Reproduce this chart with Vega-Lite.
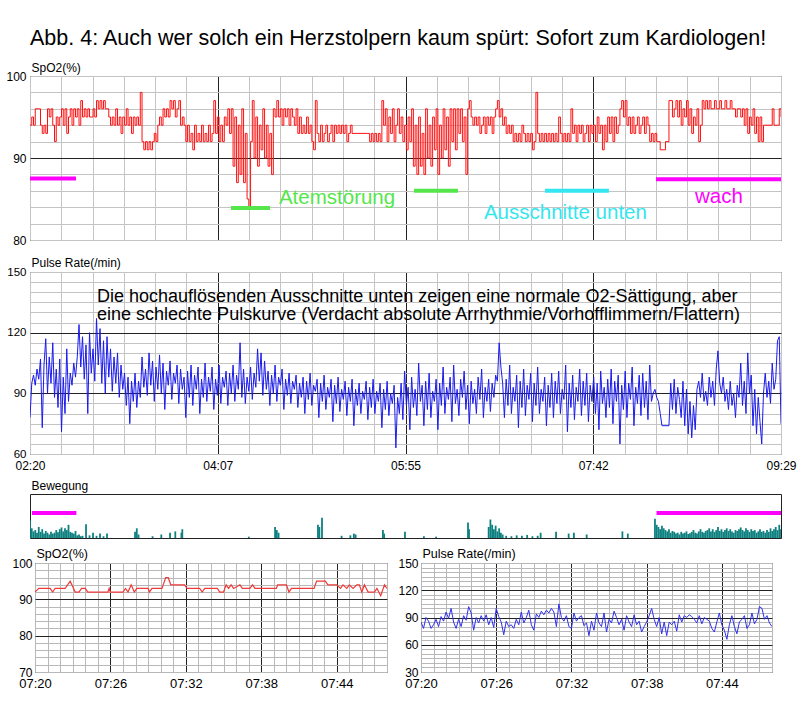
{
"$schema": "https://vega.github.io/schema/vega-lite/v6.json",
"background": "white",
"padding": {"left": 5, "top": 28, "right": 5, "bottom": 5},
"title": {"text": "Abb. 4: Auch wer solch ein Herzstolpern kaum spürt: Sofort zum Kardiologen!", "anchor": "start", "frame": "group", "fontSize": 21.5, "fontWeight": "normal", "font": "Liberation Sans", "color": "#000", "offset": 11, "dx": 0},
"bounds": "flush",
"spacing": 0,
"config": {
  "font": "Liberation Sans",
  "view": {"stroke": "#222"},
  "axis": {"labelFont": "Liberation Sans", "labelFontSize": 12, "labelColor": "#000", "titleColor": "#000", "titleFont": "Liberation Sans", "titleFontSize": 12, "titleFontWeight": "normal", "gridWidth": 1, "labelOverlap": false, "ticks": false, "domain": false}
},
"datasets": {
"spo2": [
{"t":140,"v":94},{"t":141,"v":95},{"t":142,"v":94},{"t":143,"v":96},{"t":144,"v":96},{"t":145,"v":96},{"t":146,"v":94},{"t":147,"v":93},{"t":148,"v":94},{"t":149,"v":93},
{"t":150,"v":96},{"t":151,"v":95},{"t":152,"v":96},{"t":153,"v":94},{"t":154,"v":92},{"t":155,"v":95},{"t":156,"v":94},{"t":157,"v":95},{"t":158,"v":96},{"t":159,"v":94},
{"t":160,"v":96},{"t":161,"v":93},{"t":162,"v":95},{"t":163,"v":96},{"t":164,"v":94},{"t":165,"v":96},{"t":166,"v":95},{"t":167,"v":96},{"t":168,"v":94},{"t":169,"v":97},
{"t":170,"v":95},{"t":171,"v":96},{"t":172,"v":95},{"t":173,"v":96},{"t":174,"v":95},{"t":175,"v":95},{"t":176,"v":96},{"t":177,"v":95},{"t":178,"v":97},{"t":179,"v":96},
{"t":180,"v":97},{"t":181,"v":96},{"t":182,"v":97},{"t":183,"v":96},{"t":184,"v":96},{"t":185,"v":95},{"t":186,"v":94},{"t":187,"v":95},{"t":188,"v":94},{"t":189,"v":96},
{"t":190,"v":94},{"t":191,"v":95},{"t":192,"v":93},{"t":193,"v":95},{"t":194,"v":94},{"t":195,"v":96},{"t":196,"v":94},{"t":197,"v":95},{"t":198,"v":93},{"t":199,"v":95},
{"t":200,"v":94},{"t":201,"v":95},{"t":202,"v":94},{"t":203,"v":98},{"t":204,"v":92},{"t":205,"v":91},{"t":206,"v":92},{"t":207,"v":91},{"t":208,"v":92},{"t":209,"v":91},
{"t":210,"v":92},{"t":211,"v":93},{"t":212,"v":92},{"t":213,"v":94},{"t":214,"v":95},{"t":215,"v":94},{"t":216,"v":96},{"t":217,"v":95},{"t":218,"v":96},{"t":219,"v":95},
{"t":220,"v":97},{"t":221,"v":96},{"t":222,"v":97},{"t":223,"v":95},{"t":224,"v":96},{"t":225,"v":97},{"t":226,"v":94},{"t":227,"v":95},{"t":228,"v":94},{"t":229,"v":92},
{"t":230,"v":94},{"t":231,"v":92},{"t":232,"v":93},{"t":233,"v":91},{"t":234,"v":94},{"t":235,"v":92},{"t":236,"v":93},{"t":237,"v":92},{"t":238,"v":94},{"t":239,"v":92},
{"t":240,"v":93},{"t":241,"v":92},{"t":242,"v":94},{"t":243,"v":92},{"t":244,"v":93},{"t":245,"v":97},{"t":246,"v":93},{"t":247,"v":95},{"t":248,"v":92},{"t":249,"v":94},
{"t":250,"v":92},{"t":251,"v":95},{"t":252,"v":94},{"t":253,"v":96},{"t":254,"v":93},{"t":255,"v":96},{"t":256,"v":89},{"t":257,"v":95},{"t":258,"v":87},{"t":259,"v":94},
{"t":260,"v":88},{"t":261,"v":96},{"t":262,"v":87},{"t":263,"v":93},{"t":264,"v":85},{"t":265,"v":84},{"t":266,"v":92},{"t":267,"v":97},{"t":268,"v":90},{"t":269,"v":95},
{"t":270,"v":89},{"t":271,"v":94},{"t":272,"v":91},{"t":273,"v":96},{"t":274,"v":90},{"t":275,"v":94},{"t":276,"v":89},{"t":277,"v":93},{"t":278,"v":88},{"t":279,"v":96},
{"t":280,"v":95},{"t":281,"v":97},{"t":282,"v":95},{"t":283,"v":96},{"t":284,"v":94},{"t":285,"v":96},{"t":286,"v":95},{"t":287,"v":96},{"t":288,"v":94},{"t":289,"v":96},
{"t":290,"v":95},{"t":291,"v":94},{"t":292,"v":96},{"t":293,"v":93},{"t":294,"v":95},{"t":295,"v":93},{"t":296,"v":94},{"t":297,"v":93},{"t":298,"v":95},{"t":299,"v":93},
{"t":300,"v":94},{"t":301,"v":92},{"t":302,"v":91},{"t":303,"v":97},{"t":304,"v":93},{"t":305,"v":92},{"t":306,"v":94},{"t":307,"v":92},{"t":308,"v":93},{"t":309,"v":94},
{"t":310,"v":92},{"t":311,"v":93},{"t":312,"v":94},{"t":313,"v":92},{"t":314,"v":94},{"t":315,"v":93},{"t":316,"v":94},{"t":317,"v":93},{"t":318,"v":94},{"t":319,"v":93},
{"t":320,"v":94},{"t":321,"v":92},{"t":322,"v":93},{"t":323,"v":94},{"t":324,"v":93},{"t":333,"v":93},{"t":334,"v":92},{"t":335,"v":93},{"t":336,"v":92},{"t":337,"v":93},
{"t":338,"v":92},{"t":339,"v":93},{"t":340,"v":92},{"t":341,"v":97},{"t":342,"v":94},{"t":343,"v":96},{"t":344,"v":92},{"t":345,"v":95},{"t":346,"v":93},{"t":347,"v":96},
{"t":348,"v":92},{"t":349,"v":94},{"t":350,"v":96},{"t":351,"v":93},{"t":352,"v":95},{"t":353,"v":92},{"t":354,"v":94},{"t":355,"v":91},{"t":356,"v":95},{"t":357,"v":92},
{"t":358,"v":96},{"t":359,"v":89},{"t":360,"v":94},{"t":361,"v":88},{"t":362,"v":95},{"t":363,"v":89},{"t":364,"v":93},{"t":365,"v":88},{"t":366,"v":96},{"t":367,"v":90},
{"t":368,"v":94},{"t":369,"v":89},{"t":370,"v":95},{"t":371,"v":91},{"t":372,"v":96},{"t":373,"v":88},{"t":374,"v":94},{"t":375,"v":90},{"t":376,"v":96},{"t":377,"v":91},
{"t":378,"v":95},{"t":379,"v":89},{"t":380,"v":96},{"t":381,"v":92},{"t":382,"v":96},{"t":383,"v":91},{"t":384,"v":96},{"t":385,"v":93},{"t":386,"v":96},{"t":387,"v":92},
{"t":388,"v":95},{"t":389,"v":88},{"t":390,"v":96},{"t":391,"v":97},{"t":392,"v":95},{"t":393,"v":94},{"t":394,"v":95},{"t":395,"v":94},{"t":396,"v":95},{"t":397,"v":93},
{"t":398,"v":94},{"t":399,"v":95},{"t":400,"v":93},{"t":401,"v":95},{"t":402,"v":94},{"t":403,"v":95},{"t":404,"v":93},{"t":405,"v":95},{"t":406,"v":96},{"t":407,"v":97},
{"t":408,"v":95},{"t":409,"v":96},{"t":410,"v":94},{"t":411,"v":95},{"t":412,"v":93},{"t":413,"v":94},{"t":414,"v":93},{"t":415,"v":94},{"t":416,"v":92},{"t":417,"v":93},
{"t":418,"v":92},{"t":419,"v":93},{"t":420,"v":92},{"t":421,"v":94},{"t":422,"v":93},{"t":423,"v":92},{"t":424,"v":93},{"t":425,"v":92},{"t":426,"v":93},{"t":427,"v":91},
{"t":428,"v":92},{"t":429,"v":98},{"t":430,"v":93},{"t":431,"v":92},{"t":432,"v":93},{"t":433,"v":92},{"t":434,"v":93},{"t":435,"v":92},{"t":436,"v":93},{"t":437,"v":92},
{"t":438,"v":93},{"t":439,"v":92},{"t":440,"v":93},{"t":441,"v":92},{"t":442,"v":95},{"t":443,"v":93},{"t":444,"v":92},{"t":445,"v":93},{"t":446,"v":92},{"t":447,"v":93},
{"t":448,"v":92},{"t":449,"v":96},{"t":450,"v":93},{"t":451,"v":94},{"t":452,"v":92},{"t":453,"v":94},{"t":454,"v":93},{"t":455,"v":94},{"t":456,"v":92},{"t":457,"v":93},
{"t":458,"v":94},{"t":459,"v":92},{"t":460,"v":94},{"t":461,"v":93},{"t":462,"v":94},{"t":463,"v":92},{"t":464,"v":95},{"t":465,"v":93},{"t":466,"v":94},{"t":467,"v":91},
{"t":468,"v":94},{"t":469,"v":92},{"t":470,"v":95},{"t":471,"v":93},{"t":472,"v":95},{"t":473,"v":92},{"t":474,"v":95},{"t":475,"v":93},{"t":476,"v":94},{"t":477,"v":96},
{"t":478,"v":97},{"t":479,"v":95},{"t":480,"v":97},{"t":481,"v":94},{"t":482,"v":95},{"t":483,"v":93},{"t":484,"v":95},{"t":485,"v":93},{"t":486,"v":94},{"t":487,"v":95},
{"t":488,"v":93},{"t":489,"v":94},{"t":490,"v":95},{"t":491,"v":93},{"t":492,"v":95},{"t":493,"v":94},{"t":494,"v":92},{"t":495,"v":93},{"t":496,"v":92},{"t":497,"v":93},
{"t":498,"v":92},{"t":499,"v":92},{"t":500,"v":91},{"t":503,"v":92},{"t":505,"v":97},{"t":507,"v":95},{"t":508,"v":96},{"t":509,"v":97},{"t":510,"v":95},{"t":511,"v":97},
{"t":512,"v":94},{"t":513,"v":96},{"t":514,"v":95},{"t":515,"v":97},{"t":516,"v":94},{"t":517,"v":96},{"t":518,"v":93},{"t":519,"v":95},{"t":520,"v":94},{"t":521,"v":96},
{"t":522,"v":92},{"t":523,"v":94},{"t":524,"v":97},{"t":525,"v":96},{"t":526,"v":97},{"t":527,"v":96},{"t":528,"v":97},{"t":529,"v":96},{"t":531,"v":97},{"t":532,"v":96},
{"t":534,"v":97},{"t":535,"v":96},{"t":537,"v":97},{"t":538,"v":96},{"t":540,"v":97},{"t":541,"v":96},{"t":543,"v":95},{"t":544,"v":96},{"t":546,"v":95},{"t":547,"v":96},
{"t":548,"v":94},{"t":549,"v":96},{"t":550,"v":93},{"t":551,"v":95},{"t":552,"v":94},{"t":553,"v":96},{"t":554,"v":93},{"t":555,"v":95},{"t":556,"v":92},{"t":557,"v":95},
{"t":558,"v":92},{"t":559,"v":94},{"t":564,"v":96},{"t":565,"v":94},{"t":568,"v":96},{"t":569,"v":95}
],
"pulse": [
{"t":140,"v":78},{"t":141,"v":95},{"t":142,"v":99},{"t":143,"v":94},{"t":144,"v":102},{"t":145,"v":97},{"t":146,"v":107},{"t":147,"v":73},{"t":148,"v":104},{"t":149,"v":117},
{"t":150,"v":90},{"t":151,"v":108},{"t":152,"v":95},{"t":153,"v":115},{"t":154,"v":88},{"t":155,"v":102},{"t":156,"v":83},{"t":157,"v":107},{"t":158,"v":71},{"t":159,"v":98},
{"t":160,"v":80},{"t":161,"v":112},{"t":162,"v":86},{"t":163,"v":100},{"t":164,"v":94},{"t":165,"v":105},{"t":166,"v":98},{"t":167,"v":108},{"t":168,"v":124},{"t":169,"v":103},
{"t":170,"v":118},{"t":171,"v":97},{"t":172,"v":114},{"t":173,"v":80},{"t":174,"v":120},{"t":175,"v":100},{"t":176,"v":112},{"t":177,"v":96},{"t":178,"v":127},{"t":179,"v":104},
{"t":180,"v":122},{"t":181,"v":95},{"t":182,"v":116},{"t":183,"v":90},{"t":184,"v":118},{"t":185,"v":98},{"t":186,"v":112},{"t":187,"v":91},{"t":188,"v":108},{"t":189,"v":95},
{"t":190,"v":110},{"t":191,"v":88},{"t":192,"v":104},{"t":193,"v":92},{"t":194,"v":100},{"t":195,"v":84},{"t":196,"v":98},{"t":197,"v":75},{"t":198,"v":96},{"t":199,"v":86},
{"t":200,"v":100},{"t":201,"v":83},{"t":202,"v":96},{"t":203,"v":88},{"t":204,"v":108},{"t":205,"v":93},{"t":206,"v":102},{"t":207,"v":89},{"t":208,"v":110},{"t":209,"v":94},
{"t":210,"v":106},{"t":211,"v":86},{"t":212,"v":103},{"t":213,"v":92},{"t":214,"v":109},{"t":215,"v":90},{"t":216,"v":105},{"t":217,"v":82},{"t":218,"v":101},{"t":219,"v":94},
{"t":220,"v":106},{"t":221,"v":87},{"t":222,"v":100},{"t":223,"v":95},{"t":224,"v":104},{"t":225,"v":85},{"t":226,"v":102},{"t":227,"v":92},{"t":228,"v":98},{"t":229,"v":78},
{"t":230,"v":101},{"t":231,"v":88},{"t":232,"v":104},{"t":233,"v":84},{"t":234,"v":99},{"t":235,"v":92},{"t":236,"v":103},{"t":237,"v":80},{"t":238,"v":97},{"t":239,"v":88},
{"t":240,"v":105},{"t":241,"v":86},{"t":242,"v":98},{"t":243,"v":91},{"t":244,"v":103},{"t":245,"v":82},{"t":246,"v":97},{"t":247,"v":89},{"t":248,"v":104},{"t":249,"v":85},
{"t":250,"v":98},{"t":251,"v":93},{"t":252,"v":101},{"t":253,"v":84},{"t":254,"v":100},{"t":255,"v":90},{"t":256,"v":104},{"t":257,"v":86},{"t":258,"v":99},{"t":259,"v":92},
{"t":260,"v":115},{"t":261,"v":88},{"t":262,"v":102},{"t":263,"v":85},{"t":264,"v":98},{"t":265,"v":91},{"t":266,"v":103},{"t":267,"v":87},{"t":268,"v":100},{"t":269,"v":93},
{"t":270,"v":112},{"t":271,"v":96},{"t":272,"v":110},{"t":273,"v":89},{"t":274,"v":106},{"t":275,"v":92},{"t":276,"v":101},{"t":277,"v":84},{"t":278,"v":99},{"t":279,"v":90},
{"t":280,"v":104},{"t":281,"v":86},{"t":282,"v":98},{"t":283,"v":94},{"t":284,"v":102},{"t":285,"v":82},{"t":286,"v":97},{"t":287,"v":89},{"t":288,"v":100},{"t":289,"v":85},
{"t":290,"v":96},{"t":291,"v":92},{"t":292,"v":99},{"t":293,"v":83},{"t":294,"v":95},{"t":295,"v":88},{"t":296,"v":98},{"t":297,"v":80},{"t":298,"v":96},{"t":299,"v":87},
{"t":300,"v":100},{"t":301,"v":84},{"t":302,"v":94},{"t":303,"v":91},{"t":304,"v":97},{"t":305,"v":78},{"t":306,"v":95},{"t":307,"v":86},{"t":308,"v":99},{"t":309,"v":82},
{"t":310,"v":93},{"t":311,"v":88},{"t":312,"v":97},{"t":313,"v":76},{"t":314,"v":94},{"t":315,"v":85},{"t":316,"v":98},{"t":317,"v":81},{"t":318,"v":92},{"t":319,"v":87},
{"t":320,"v":96},{"t":321,"v":79},{"t":322,"v":93},{"t":323,"v":86},{"t":324,"v":97},{"t":325,"v":74},{"t":326,"v":92},{"t":327,"v":84},{"t":328,"v":95},{"t":329,"v":80},
{"t":330,"v":91},{"t":331,"v":87},{"t":332,"v":96},{"t":333,"v":77},{"t":334,"v":93},{"t":335,"v":83},{"t":336,"v":97},{"t":337,"v":80},{"t":338,"v":91},{"t":339,"v":86},
{"t":340,"v":95},{"t":341,"v":73},{"t":342,"v":92},{"t":343,"v":82},{"t":344,"v":96},{"t":345,"v":79},{"t":346,"v":90},{"t":347,"v":85},{"t":348,"v":94},{"t":349,"v":63},
{"t":350,"v":88},{"t":351,"v":80},{"t":352,"v":95},{"t":353,"v":77},{"t":354,"v":101},{"t":355,"v":84},{"t":356,"v":93},{"t":357,"v":72},{"t":358,"v":98},{"t":359,"v":83},
{"t":360,"v":92},{"t":361,"v":79},{"t":362,"v":105},{"t":363,"v":86},{"t":364,"v":94},{"t":365,"v":74},{"t":366,"v":96},{"t":367,"v":82},{"t":368,"v":100},{"t":369,"v":78},
{"t":370,"v":91},{"t":371,"v":86},{"t":372,"v":97},{"t":373,"v":72},{"t":374,"v":95},{"t":375,"v":84},{"t":376,"v":103},{"t":377,"v":80},{"t":378,"v":93},{"t":379,"v":87},
{"t":380,"v":98},{"t":381,"v":76},{"t":382,"v":104},{"t":383,"v":85},{"t":384,"v":92},{"t":385,"v":79},{"t":386,"v":97},{"t":387,"v":88},{"t":388,"v":101},{"t":389,"v":82},
{"t":390,"v":94},{"t":391,"v":75},{"t":392,"v":96},{"t":393,"v":85},{"t":394,"v":92},{"t":395,"v":80},{"t":396,"v":98},{"t":397,"v":87},{"t":398,"v":102},{"t":399,"v":78},
{"t":400,"v":93},{"t":401,"v":86},{"t":402,"v":97},{"t":403,"v":81},{"t":404,"v":95},{"t":405,"v":88},{"t":406,"v":99},{"t":407,"v":96},{"t":408,"v":115},{"t":409,"v":103},
{"t":410,"v":95},{"t":411,"v":78},{"t":412,"v":97},{"t":413,"v":84},{"t":414,"v":104},{"t":415,"v":80},{"t":416,"v":93},{"t":417,"v":86},{"t":418,"v":99},{"t":419,"v":73},
{"t":420,"v":96},{"t":421,"v":83},{"t":422,"v":102},{"t":423,"v":79},{"t":424,"v":94},{"t":425,"v":87},{"t":426,"v":100},{"t":427,"v":76},{"t":428,"v":95},{"t":429,"v":84},
{"t":430,"v":103},{"t":431,"v":80},{"t":432,"v":92},{"t":433,"v":86},{"t":434,"v":98},{"t":435,"v":74},{"t":436,"v":94},{"t":437,"v":83},{"t":438,"v":100},{"t":439,"v":78},
{"t":440,"v":96},{"t":441,"v":85},{"t":442,"v":101},{"t":443,"v":80},{"t":444,"v":92},{"t":445,"v":87},{"t":446,"v":104},{"t":447,"v":71},{"t":448,"v":95},{"t":449,"v":83},
{"t":450,"v":99},{"t":451,"v":77},{"t":452,"v":93},{"t":453,"v":86},{"t":454,"v":102},{"t":455,"v":79},{"t":456,"v":96},{"t":457,"v":84},{"t":458,"v":100},{"t":459,"v":76},
{"t":460,"v":94},{"t":461,"v":86},{"t":462,"v":98},{"t":463,"v":80},{"t":464,"v":95},{"t":465,"v":72},{"t":466,"v":101},{"t":467,"v":85},{"t":468,"v":93},{"t":469,"v":78},
{"t":470,"v":97},{"t":471,"v":83},{"t":472,"v":102},{"t":473,"v":75},{"t":474,"v":96},{"t":475,"v":86},{"t":476,"v":99},{"t":477,"v":65},{"t":478,"v":94},{"t":479,"v":82},
{"t":480,"v":101},{"t":481,"v":78},{"t":482,"v":95},{"t":483,"v":87},{"t":484,"v":103},{"t":485,"v":74},{"t":486,"v":93},{"t":487,"v":85},{"t":488,"v":99},{"t":489,"v":79},
{"t":490,"v":100},{"t":491,"v":83},{"t":492,"v":96},{"t":493,"v":77},{"t":494,"v":104},{"t":495,"v":86},{"t":496,"v":90},{"t":497,"v":92},{"t":498,"v":88},{"t":499,"v":86},
{"t":500,"v":80},{"t":501,"v":74},{"t":505,"v":74},{"t":506,"v":95},{"t":507,"v":82},{"t":508,"v":97},{"t":509,"v":80},{"t":510,"v":93},{"t":511,"v":87},{"t":512,"v":78},
{"t":513,"v":96},{"t":514,"v":74},{"t":515,"v":92},{"t":516,"v":70},{"t":517,"v":86},{"t":518,"v":68},{"t":519,"v":84},{"t":520,"v":72},{"t":521,"v":92},{"t":522,"v":96},
{"t":523,"v":88},{"t":524,"v":100},{"t":525,"v":86},{"t":526,"v":91},{"t":527,"v":84},{"t":528,"v":98},{"t":529,"v":88},{"t":530,"v":96},{"t":531,"v":84},{"t":532,"v":102},
{"t":533,"v":111},{"t":534,"v":95},{"t":535,"v":90},{"t":536,"v":98},{"t":537,"v":86},{"t":538,"v":92},{"t":539,"v":82},{"t":540,"v":96},{"t":541,"v":84},{"t":542,"v":90},
{"t":543,"v":78},{"t":544,"v":94},{"t":545,"v":88},{"t":546,"v":105},{"t":547,"v":84},{"t":548,"v":96},{"t":549,"v":80},{"t":550,"v":110},{"t":551,"v":90},{"t":552,"v":99},
{"t":553,"v":74},{"t":554,"v":92},{"t":555,"v":70},{"t":556,"v":88},{"t":557,"v":76},{"t":558,"v":65},{"t":559,"v":90},{"t":560,"v":100},{"t":561,"v":88},{"t":562,"v":96},
{"t":563,"v":85},{"t":564,"v":105},{"t":565,"v":92},{"t":566,"v":97},{"t":567,"v":116},{"t":568,"v":118},{"t":569,"v":75}
],
"move": [
{"t":140,"v":40},{"t":141,"v":22},{"t":142,"v":15},{"t":143,"v":18},{"t":144,"v":12},{"t":145,"v":25},{"t":146,"v":14},{"t":147,"v":20},{"t":148,"v":10},{"t":149,"v":16},
{"t":150,"v":12},{"t":151,"v":8},{"t":152,"v":14},{"t":153,"v":10},{"t":154,"v":12},{"t":155,"v":18},{"t":156,"v":13},{"t":157,"v":20},{"t":158,"v":24},{"t":159,"v":15},
{"t":160,"v":22},{"t":161,"v":18},{"t":162,"v":30},{"t":163,"v":14},{"t":164,"v":12},{"t":165,"v":10},{"t":166,"v":16},
{"t":167,"v":6},{"t":168,"v":8},{"t":169,"v":4},{"t":170,"v":5},{"t":172,"v":31},{"t":174,"v":6},{"t":176,"v":12},{"t":178,"v":5},{"t":180,"v":10},{"t":182,"v":4},{"t":184,"v":10},
{"t":200,"v":14},{"t":201,"v":22},{"t":202,"v":8},{"t":210,"v":4},{"t":215,"v":8},{"t":220,"v":12},{"t":223,"v":15},{"t":226.5,"v":12},{"t":227,"v":20},{"t":265,"v":3},
{"t":280,"v":25},{"t":281,"v":18},{"t":282,"v":12},{"t":304.5,"v":30},{"t":305.3,"v":25},{"t":306.8,"v":46},{"t":318,"v":5},{"t":323,"v":6},{"t":325,"v":10},{"t":326,"v":8},
{"t":341.6,"v":18},{"t":342.3,"v":10},{"t":354.2,"v":14},{"t":365,"v":4},{"t":372,"v":3},{"t":390.2,"v":35},{"t":390.8,"v":20},
{"t":402,"v":25},{"t":403,"v":42},{"t":404,"v":30},{"t":405,"v":20},{"t":406,"v":28},{"t":407,"v":15},{"t":408,"v":22},{"t":409,"v":12},{"t":410,"v":8},
{"t":412,"v":5},{"t":415,"v":4},{"t":418,"v":6},{"t":421,"v":5},{"t":424,"v":7},{"t":427,"v":4},{"t":430,"v":5},{"t":431.7,"v":12},{"t":440.5,"v":14},{"t":447.7,"v":10},
{"t":450.7,"v":12},{"t":458,"v":8},{"t":478.4,"v":15},{"t":481.5,"v":10},
{"t":497,"v":44},{"t":498,"v":30},{"t":499,"v":25},{"t":500,"v":20},{"t":501,"v":28},{"t":502,"v":22},{"t":503,"v":18},{"t":504,"v":15},{"t":505,"v":20},{"t":506,"v":12},
{"t":507,"v":16},{"t":508,"v":14},{"t":509,"v":10},{"t":510,"v":12},{"t":511,"v":8},{"t":512,"v":14},{"t":513,"v":10},{"t":514,"v":12},{"t":515,"v":15},{"t":516,"v":9},
{"t":517,"v":11},{"t":518,"v":14},{"t":519,"v":18},{"t":520,"v":12},{"t":521,"v":10},{"t":522,"v":15},{"t":523,"v":20},{"t":524,"v":14},{"t":525,"v":12},{"t":526,"v":16},
{"t":527,"v":18},{"t":528,"v":22},{"t":529,"v":15},{"t":530,"v":20},{"t":531,"v":14},{"t":532,"v":18},{"t":533,"v":25},{"t":534,"v":16},{"t":535,"v":20},{"t":536,"v":14},
{"t":537,"v":18},{"t":538,"v":22},{"t":539,"v":16},{"t":540,"v":20},{"t":541,"v":15},{"t":542,"v":12},{"t":543,"v":18},{"t":544,"v":16},{"t":545,"v":20},{"t":546,"v":24},
{"t":547,"v":18},{"t":548,"v":15},{"t":549,"v":22},{"t":550,"v":18},{"t":551,"v":14},{"t":552,"v":20},{"t":553,"v":16},{"t":554,"v":18},{"t":555,"v":12},{"t":556,"v":15},
{"t":557,"v":20},{"t":558,"v":14},{"t":559,"v":16},{"t":560,"v":12},{"t":561,"v":18},{"t":562,"v":14},{"t":563,"v":22},{"t":564,"v":16},{"t":565,"v":20},{"t":566,"v":25},
{"t":567,"v":18},{"t":568,"v":30},{"t":569,"v":20}
],
"spo2z": [
{"t":440,"v":92},{"t":440.3,"v":93},{"t":441.2,"v":93},{"t":441.4,"v":92},{"t":441.6,"v":93},{"t":442.4,"v":93},{"t":442.8,"v":95},{"t":443.2,"v":92},{"t":443.5,"v":92},{"t":443.7,"v":93},
{"t":444,"v":93},{"t":444.2,"v":92},{"t":445.8,"v":92},{"t":445.9,"v":93},{"t":446,"v":92},{"t":447,"v":92},{"t":447.2,"v":93},{"t":447.4,"v":92},{"t":447.65,"v":94},{"t":447.9,"v":92},
{"t":448.1,"v":93},{"t":449,"v":93},{"t":449.1,"v":92},{"t":449.3,"v":93},{"t":450.1,"v":93},{"t":450.4,"v":96},{"t":450.6,"v":96},{"t":450.8,"v":94},{"t":451.9,"v":94},{"t":452.1,"v":93},
{"t":453.1,"v":93},{"t":453.3,"v":92},{"t":453.5,"v":93},{"t":454.5,"v":93},{"t":454.7,"v":92},{"t":455,"v":92},{"t":455.2,"v":94},{"t":455.4,"v":93},{"t":455.6,"v":94},{"t":455.8,"v":93},
{"t":456.3,"v":94},{"t":456.5,"v":93},{"t":457.1,"v":93},{"t":457.3,"v":94},{"t":457.5,"v":93},{"t":459.2,"v":93},{"t":459.3,"v":94},{"t":460,"v":94},{"t":460.2,"v":92},{"t":460.4,"v":93},
{"t":462.2,"v":93},{"t":462.4,"v":95},{"t":463.1,"v":95},{"t":463.3,"v":94},{"t":464,"v":94},{"t":464.3,"v":93},{"t":464.5,"v":94},{"t":464.8,"v":93},{"t":465,"v":94},{"t":465.3,"v":93},
{"t":465.6,"v":94},{"t":465.8,"v":94},{"t":466,"v":92},{"t":466.2,"v":94},{"t":466.5,"v":92},{"t":467,"v":92},{"t":467.2,"v":93},{"t":467.5,"v":91},{"t":467.8,"v":94},{"t":468,"v":93}
],
"pulsez": [
{"t":440,"v":85},{"t":440.2,"v":78},{"t":440.4,"v":90},{"t":440.6,"v":86},{"t":440.8,"v":78},{"t":441,"v":82},{"t":441.2,"v":88},{"t":441.4,"v":80},{"t":441.6,"v":91},{"t":441.8,"v":86},
{"t":442,"v":96},{"t":442.2,"v":89},{"t":442.4,"v":100},{"t":442.6,"v":85},{"t":442.8,"v":78},{"t":443,"v":88},{"t":443.2,"v":80},{"t":443.4,"v":92},{"t":443.6,"v":87},{"t":443.8,"v":102},
{"t":444,"v":95},{"t":444.2,"v":76},{"t":444.4,"v":90},{"t":444.6,"v":84},{"t":444.8,"v":92},{"t":445,"v":86},{"t":445.2,"v":93},{"t":445.4,"v":82},{"t":445.6,"v":90},{"t":445.8,"v":79},
{"t":446,"v":100},{"t":446.2,"v":91},{"t":446.4,"v":85},{"t":446.6,"v":71},{"t":446.8,"v":86},{"t":447,"v":80},{"t":447.2,"v":82},{"t":447.4,"v":78},{"t":447.6,"v":88},{"t":447.8,"v":82},
{"t":448,"v":96},{"t":448.2,"v":84},{"t":448.4,"v":90},{"t":448.6,"v":98},{"t":448.8,"v":82},{"t":449,"v":76},{"t":449.2,"v":94},{"t":449.4,"v":90},{"t":449.6,"v":97},{"t":449.8,"v":93},
{"t":450,"v":98},{"t":450.2,"v":95},{"t":450.4,"v":100},{"t":450.6,"v":96},{"t":450.8,"v":80},{"t":451,"v":105},{"t":451.2,"v":90},{"t":451.4,"v":86},{"t":451.6,"v":92},{"t":451.8,"v":80},
{"t":452,"v":78},{"t":452.2,"v":95},{"t":452.4,"v":86},{"t":452.6,"v":90},{"t":452.8,"v":92},{"t":453,"v":81},{"t":453.2,"v":84},{"t":453.4,"v":70},{"t":453.6,"v":86},{"t":453.8,"v":76},
{"t":454,"v":95},{"t":454.2,"v":84},{"t":454.4,"v":80},{"t":454.6,"v":95},{"t":454.8,"v":74},{"t":455,"v":88},{"t":455.2,"v":84},{"t":455.4,"v":97},{"t":455.6,"v":90},{"t":455.8,"v":82},
{"t":456,"v":88},{"t":456.2,"v":76},{"t":456.4,"v":92},{"t":456.6,"v":85},{"t":456.8,"v":80},{"t":457,"v":93},{"t":457.2,"v":82},{"t":457.4,"v":86},{"t":457.6,"v":74},{"t":457.8,"v":80},
{"t":458,"v":85},{"t":458.2,"v":92},{"t":458.4,"v":100},{"t":458.6,"v":88},{"t":458.8,"v":80},{"t":459,"v":90},{"t":459.2,"v":72},{"t":459.4,"v":85},{"t":459.6,"v":70},{"t":459.8,"v":85},
{"t":460,"v":82},{"t":460.2,"v":86},{"t":460.4,"v":75},{"t":460.6,"v":93},{"t":460.8,"v":85},{"t":461,"v":92},{"t":461.2,"v":90},{"t":461.4,"v":93},{"t":461.6,"v":91},{"t":461.8,"v":88},
{"t":462,"v":84},{"t":462.2,"v":92},{"t":462.4,"v":83},{"t":462.6,"v":90},{"t":462.8,"v":88},{"t":463,"v":86},{"t":463.2,"v":78},{"t":463.4,"v":74},{"t":463.6,"v":85},{"t":463.8,"v":95},
{"t":464,"v":82},{"t":464.2,"v":76},{"t":464.4,"v":66},{"t":464.6,"v":82},{"t":464.8,"v":92},{"t":465,"v":80},{"t":465.2,"v":72},{"t":465.4,"v":85},{"t":465.6,"v":88},{"t":465.8,"v":92},
{"t":466,"v":78},{"t":466.2,"v":82},{"t":466.4,"v":95},{"t":466.6,"v":83},{"t":466.8,"v":88},{"t":467,"v":102},{"t":467.2,"v":100},{"t":467.4,"v":88},{"t":467.6,"v":92},{"t":467.8,"v":84},
{"t":468,"v":80}
]
},
"vconcat": [
{
  "width": 751, "height": 164,
  "encoding": {
    "x": {"field": "t", "type": "quantitative", "scale": {"domain": [140, 569], "nice": false, "zero": false},
      "axis": {"orient": "bottom", "values": [140,157.875,175.75,193.625,211.5,229.375,247.25,265.125,283,300.875,318.75,336.625,354.5,372.375,390.25,408.125,426,443.875,461.75,479.625,497.5,515.375,533.25,551.125,569], "labels": false, "title": null,
        "gridColor": {"condition": {"test": "indexof([247.25,354.5,461.75], datum.value) >= 0", "value": "#222"}, "value": "#c4c4c4"}}},
    "y": {"field": "v", "type": "quantitative", "scale": {"domain": [80, 100], "nice": false, "zero": false},
      "axis": {"values": [80,82,84,86,88,90,92,94,96,98,100], "labelExpr": "datum.value % 10 === 0 ? datum.label : ''", "labelPadding": 4,
        "gridColor": {"condition": {"test": "datum.value === 90", "value": "#222"}, "value": "#c4c4c4"},
        "title": "SpO2(%)", "titleAngle": 0, "titleX": 1, "titleY": -5, "titleAlign": "left", "titleBaseline": "alphabetic"}}
  },
  "layer": [
    {
      "data": {"name": "spo2"},
      "mark": {"type": "line", "interpolate": "step-after", "color": "#ff1010", "strokeWidth": 1, "clip": true}
    },
    {
      "data": {"values": [
        {"t": 140, "t2": 166.3, "v": 87.5, "k": "wach"},
        {"t": 254.8, "t2": 277.1, "v": 83.9, "k": "atem"},
        {"t": 359.3, "t2": 384.5, "v": 86.0, "k": "atem"},
        {"t": 434.2, "t2": 470.7, "v": 86.0, "k": "aus"},
        {"t": 497.6, "t2": 569, "v": 87.4, "k": "wach"}
      ]},
      "mark": {"type": "rule", "strokeWidth": 4},
      "encoding": {
        "x2": {"field": "t2"},
        "color": {"field": "k", "type": "nominal", "scale": {"domain": ["wach", "atem", "aus"], "range": ["#ff00ff", "#55e64b", "#33e6f0"]}, "legend": null}
      }
    },
    {
      "data": {"values": [
        {"t": 282.2, "v": 85.1, "txt": "Atemstörung", "k": "atem"},
        {"t": 399.3, "v": 83.3, "txt": "Ausschnitte unten", "k": "aus"},
        {"t": 519.9, "v": 85.2, "txt": "wach", "k": "wach"}
      ]},
      "mark": {"type": "text", "align": "left", "baseline": "middle", "fontSize": 20.5, "font": "Liberation Sans"},
      "encoding": {
        "text": {"field": "txt"},
        "color": {"field": "k", "type": "nominal", "legend": null}
      }
    }
  ]
},
{"width": 751, "height": 32, "data": {"values": [{}]}, "mark": {"type": "point", "opacity": 0}, "encoding": {}, "view": {"stroke": null}},
{
  "width": 751, "height": 182,
  "encoding": {
    "x": {"field": "t", "type": "quantitative", "scale": {"domain": [140, 569], "nice": false, "zero": false},
      "axis": {"orient": "bottom", "values": [140,157.875,175.75,193.625,211.5,229.375,247.25,265.125,283,300.875,318.75,336.625,354.5,372.375,390.25,408.125,426,443.875,461.75,479.625,497.5,515.375,533.25,551.125,569], "title": null, "labelPadding": 6, "labelFlush": false, "labelBound": false,
        "labelExpr": "indexof([140,247.25,354.5,461.75,569], datum.value) >= 0 ? pad(toString(floor(round(datum.value)/60)), 2, '0', 'left') + ':' + pad(toString(round(datum.value) % 60), 2, '0', 'left') : ''",
        "gridColor": {"condition": {"test": "indexof([247.25,354.5,461.75], datum.value) >= 0", "value": "#222"}, "value": "#c4c4c4"}}},
    "y": {"field": "v", "type": "quantitative", "scale": {"domain": [60, 150], "nice": false, "zero": false},
      "axis": {"values": [60,65,70,75,80,85,90,95,100,105,110,115,120,125,130,135,140,145,150], "labelExpr": "datum.value % 30 === 0 ? datum.label : ''", "labelPadding": 4, "labelFontSize": 11.5,
        "gridColor": {"condition": {"test": "datum.value === 90 || datum.value === 120", "value": "#222"}, "value": "#c4c4c4"},
        "title": "Pulse Rate(/min)", "titleAngle": 0, "titleX": 1, "titleY": -6, "titleAlign": "left", "titleBaseline": "alphabetic"}}
  },
  "layer": [
    {
      "data": {"name": "pulse"},
      "mark": {"type": "line", "color": "#1a1aee", "strokeWidth": 1, "clip": true}
    },
    {
      "data": {"values": [
        {"t": 178.3, "v": 137.8, "txt": "Die hochauflösenden Ausschnitte unten zeigen eine normale O2-Sättigung, aber"},
        {"t": 178.3, "v": 128.9, "txt": "eine schlechte Pulskurve (Verdacht absolute Arrhythmie/Vorhofflimmern/Flattern)"}
      ]},
      "mark": {"type": "text", "align": "left", "baseline": "middle", "fontSize": 18, "font": "Liberation Sans", "color": "#000"},
      "encoding": {
        "text": {"field": "txt"}
      }
    }
  ]
},
{"width": 751, "height": 40, "data": {"values": [{}]}, "mark": {"type": "point", "opacity": 0}, "encoding": {}, "view": {"stroke": null}},
{
  "width": 751, "height": 44,
  "encoding": {
    "x": {"field": "t", "type": "quantitative", "scale": {"domain": [140, 569], "nice": false, "zero": false}, "axis": null},
    "y": {"field": "v", "type": "quantitative", "scale": {"domain": [0, 100], "nice": false, "zero": false},
      "axis": {"labels": false, "grid": false, "title": "Bewegung", "titleAngle": 0, "titleX": 1, "titleY": -5, "titleAlign": "left", "titleBaseline": "alphabetic"}}
  },
  "layer": [
    {
      "data": {"name": "move"},
      "mark": {"type": "rule", "color": "#0f8080", "strokeWidth": 1.8, "clip": true},
      "encoding": {
        "y2": {"datum": 0}
      }
    },
    {
      "data": {"values": [{"t": 141.1, "t2": 166.5, "v": 57}, {"t": 497.9, "t2": 569, "v": 57}]},
      "mark": {"type": "rule", "color": "#ff00ff", "strokeWidth": 4},
      "encoding": {
        "x2": {"field": "t2"}
      }
    }
  ]
},
{"width": 751, "height": 25, "data": {"values": [{}]}, "mark": {"type": "point", "opacity": 0}, "encoding": {}, "view": {"stroke": null}},
{
  "bounds": "flush",
  "spacing": 0,
  "hconcat": [
    {"width": 5, "height": 109, "data": {"values": [{}]}, "mark": {"type": "point", "opacity": 0}, "encoding": {}, "view": {"stroke": null}},
    {
      "width": 352, "height": 109,
      "data": {"name": "spo2z"},
      "mark": {"type": "line", "color": "#f03a3a", "strokeWidth": 1.2, "clip": true},
      "encoding": {
        "x": {"field": "t", "type": "quantitative", "scale": {"domain": [440, 468], "nice": false, "zero": false},
          "axis": {"values": [440,441,442,443,444,445,446,447,448,449,450,451,452,453,454,455,456,457,458,459,460,461,462,463,464,465,466,467,468], "title": null, "labelPadding": 5, "labelFlush": false, "labelBound": false, "labelFontSize": 13,
            "labelExpr": "(datum.value - 440) % 6 === 0 ? '07:' + pad(toString(datum.value - 420), 2, '0', 'left') : ''",
            "gridColor": {"condition": {"test": "datum.value !== 440 && (datum.value - 440) % 6 === 0", "value": "#222"}, "value": "#b8b8b8"}}},
        "y": {"field": "v", "type": "quantitative", "scale": {"domain": [70, 100], "nice": false, "zero": false},
          "axis": {"values": [70,72,74,76,78,80,82,84,86,88,90,92,94,96,98,100], "labelExpr": "datum.value % 10 === 0 ? datum.label : ''", "labelPadding": 3, "labelFontSize": 12,
            "gridColor": {"condition": {"test": "datum.value === 80 || datum.value === 90", "value": "#222"}, "value": "#b8b8b8"},
            "title": "SpO2(%)", "titleAngle": 0, "titleX": 1, "titleY": -6, "titleAlign": "left", "titleBaseline": "alphabetic", "titleFontSize": 12.5}}
      }
    },
    {"width": 34, "height": 109, "data": {"values": [{}]}, "mark": {"type": "point", "opacity": 0}, "encoding": {}, "view": {"stroke": null}},
    {
      "width": 351, "height": 109,
      "data": {"name": "pulsez"},
      "mark": {"type": "line", "color": "#3030ee", "strokeWidth": 1, "clip": true},
      "encoding": {
        "x": {"field": "t", "type": "quantitative", "scale": {"domain": [440, 468], "nice": false, "zero": false},
          "axis": {"values": [440,441,442,443,444,445,446,447,448,449,450,451,452,453,454,455,456,457,458,459,460,461,462,463,464,465,466,467,468], "title": null, "labelPadding": 5, "labelFlush": false, "labelBound": false, "labelFontSize": 13,
            "labelExpr": "(datum.value - 440) % 6 === 0 ? '07:' + pad(toString(datum.value - 420), 2, '0', 'left') : ''",
            "gridColor": {"condition": {"test": "datum.value !== 440 && (datum.value - 440) % 6 === 0", "value": "#222"}, "value": "#b8b8b8"}}},
        "y": {"field": "v", "type": "quantitative", "scale": {"domain": [30, 150], "nice": false, "zero": false},
          "axis": {"values": [30,35,40,45,50,55,60,65,70,75,80,85,90,95,100,105,110,115,120,125,130,135,140,145,150], "labelExpr": "datum.value % 30 === 0 ? datum.label : ''", "labelPadding": 3, "labelFontSize": 12,
            "gridColor": {"condition": {"test": "datum.value === 60 || datum.value === 90 || datum.value === 120", "value": "#222"}, "value": "#b8b8b8"},
            "title": "Pulse Rate(/min)", "titleAngle": 0, "titleX": 1, "titleY": -6, "titleAlign": "left", "titleBaseline": "alphabetic", "titleFontSize": 12.5}}
      }
    }
  ]
}
]
}
